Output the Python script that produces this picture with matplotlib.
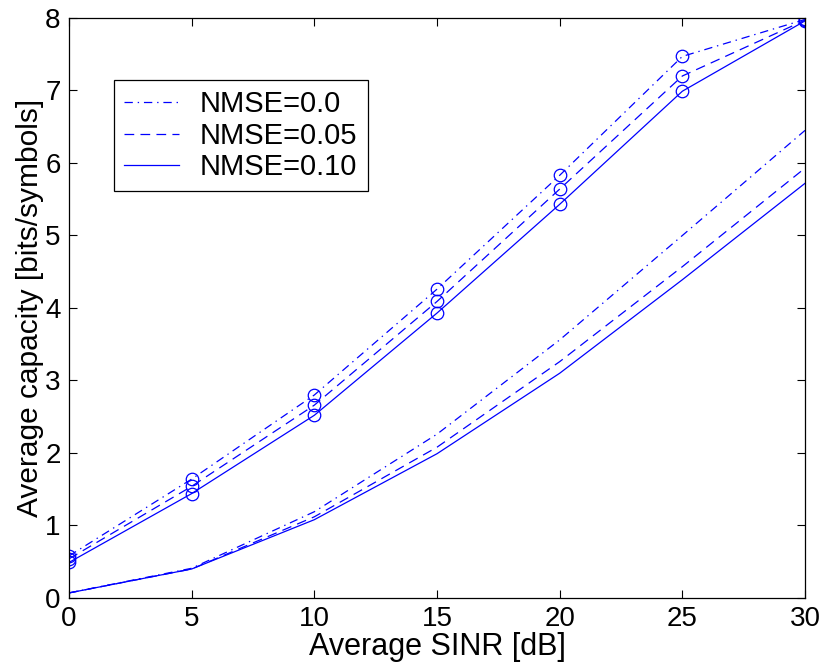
import matplotlib
matplotlib.use("Agg")
import matplotlib.pyplot as plt

plt.rcParams['font.family'] = ['Liberation Sans', 'DejaVu Sans']
plt.rcParams['lines.scale_dashes'] = False

sinr = [0, 5, 10, 15, 20, 25, 30]

# Upper curves (with circle markers)
upper_00 = [0.58, 1.64, 2.80, 4.26, 5.83, 7.47, 7.98]
upper_05 = [0.54, 1.54, 2.66, 4.09, 5.64, 7.20, 7.97]
upper_10 = [0.49, 1.44, 2.52, 3.93, 5.43, 6.99, 7.96]

# Lower curves (no markers)
lower_00 = [0.07, 0.41, 1.19, 2.26, 3.56, 5.00, 6.45]
lower_05 = [0.07, 0.40, 1.12, 2.08, 3.26, 4.57, 5.93]
lower_10 = [0.07, 0.40, 1.08, 1.99, 3.10, 4.39, 5.72]

labels = ["NMSE=0.0", "NMSE=0.05", "NMSE=0.10"]

blue = '#0000ff'
dashdot = (0, (6, 3.5, 1, 3.5))
dashed = (0, (7, 4.5))
solid = '-'
styles = [dashdot, dashed, solid]

fig = plt.figure(figsize=(8.24, 6.66), dpi=100)
ax = fig.add_axes([0.0837, 0.1021, 0.8933, 0.8709])

lw = 0.9
for ys, ls, lab in zip([upper_00, upper_05, upper_10], styles, labels):
    ax.plot(sinr, ys, color=blue, linestyle=ls, linewidth=lw, marker='o',
            markersize=9, markerfacecolor='none', markeredgewidth=0.9)
handles = []
for ys, ls, lab in zip([lower_00, lower_05, lower_10], styles, labels):
    h, = ax.plot(sinr, ys, color=blue, linestyle=ls, linewidth=lw, label=lab)
    handles.append(h)

ax.set_xlim(0, 30)
ax.set_ylim(0, 8)
ax.set_xticks([0, 5, 10, 15, 20, 25, 30])
ax.set_yticks([0, 1, 2, 3, 4, 5, 6, 7, 8])
ax.tick_params(direction='in', length=6, width=0.8, top=True, right=True,
               labelsize=20, pad=6, colors='black')
for s in ax.spines.values():
    s.set_linewidth(0.9)

ax.set_xlabel("Average SINR [dB]", fontsize=22, labelpad=0)
ax.set_ylabel("Average capacity [bits/symbols]", fontsize=21.5, labelpad=1)

leg = ax.legend(handles=handles, loc='upper left', bbox_to_anchor=(0.061, 0.893),
                fontsize=21, frameon=True, fancybox=False, framealpha=1,
                edgecolor='black', handlelength=1.9, handletextpad=0.7,
                borderpad=0.35, labelspacing=0.12, borderaxespad=0)
leg.get_frame().set_linewidth(0.9)

fig.savefig("out.png", dpi=100)
